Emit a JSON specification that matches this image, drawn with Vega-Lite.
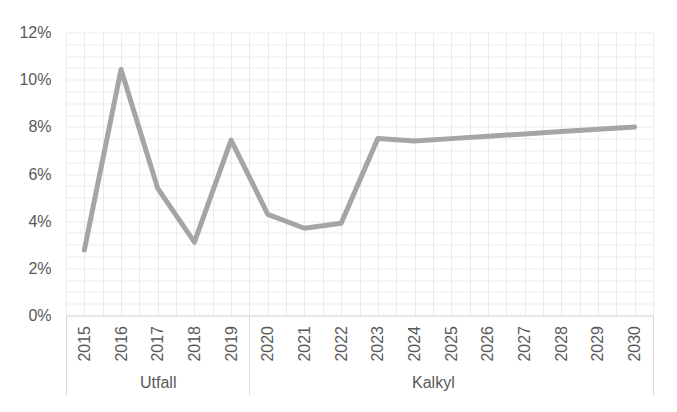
{
  "$schema": "https://vega.github.io/schema/vega-lite/v6.json",
  "autosize": "none",
  "width": 587,
  "height": 283,
  "padding": {"left": 66, "top": 32.5, "right": 24, "bottom": 96},
  "background": "white",
  "config": {
    "view": {"stroke": null},
    "font": "Liberation Sans",
    "axis": {"labelFont": "Liberation Sans", "labelFontSize": 16, "labelColor": "#595959", "titleFont": "Liberation Sans"}
  },
  "data": {"values": [
    {"year": 2015, "value": 0.0278},
    {"year": 2016, "value": 0.1043},
    {"year": 2017, "value": 0.0539},
    {"year": 2018, "value": 0.0311},
    {"year": 2019, "value": 0.0744},
    {"year": 2020, "value": 0.0429},
    {"year": 2021, "value": 0.0370},
    {"year": 2022, "value": 0.0391},
    {"year": 2023, "value": 0.0751},
    {"year": 2024, "value": 0.0740},
    {"year": 2025, "value": 0.0750},
    {"year": 2026, "value": 0.0760},
    {"year": 2027, "value": 0.0770},
    {"year": 2028, "value": 0.0780},
    {"year": 2029, "value": 0.0790},
    {"year": 2030, "value": 0.0799}
  ]},
  "resolve": {"axis": {"x": "independent", "y": "independent"}},
  "layer": [
    {
      "mark": {"type": "line", "color": "#a5a5a5", "strokeWidth": 5, "strokeCap": "round", "strokeJoin": "round", "clip": false},
      "encoding": {
        "x": {
          "field": "year", "type": "quantitative",
          "scale": {"domain": [2014.5, 2030.5], "nice": false, "zero": false},
          "axis": {
            "orient": "bottom",
            "title": null,
            "values": [2014.5, 2015, 2015.5, 2016, 2016.5, 2017, 2017.5, 2018, 2018.5, 2019, 2019.5, 2020, 2020.5, 2021, 2021.5, 2022, 2022.5, 2023, 2023.5, 2024, 2024.5, 2025, 2025.5, 2026, 2026.5, 2027, 2027.5, 2028, 2028.5, 2029, 2029.5, 2030, 2030.5],
            "labelExpr": "datum.value % 1 == 0 ? format(datum.value, 'd') : ''",
            "labelAngle": -90,
            "labelAlign": "right",
            "labelBaseline": "middle",
            "labelPadding": 10,
            "ticks": false,
            "tickSize": 0,
            "grid": true,
            "gridColor": "#ebebeb",
            "gridWidth": 1,
            "domain": true,
            "domainColor": "#d9d9d9",
            "domainWidth": 1,
            "labelOverlap": false,
            "labelFlush": false
          }
        },
        "y": {
          "field": "value", "type": "quantitative",
          "scale": {"domain": [0, 0.12], "nice": false},
          "axis": {
            "orient": "left",
            "title": null,
            "values": [0, 0.005, 0.01, 0.015, 0.02, 0.025, 0.03, 0.035, 0.04, 0.045, 0.05, 0.055, 0.06, 0.065, 0.07, 0.075, 0.08, 0.085, 0.09, 0.095, 0.1, 0.105, 0.11, 0.115, 0.12],
            "labelExpr": "round(datum.value * 1000) % 20 == 0 ? format(datum.value, '.0%') : ''",
            "labelPadding": 15,
            "ticks": false,
            "tickSize": 0,
            "domain": false,
            "grid": true,
            "gridColor": "#ebebeb",
            "gridWidth": 1,
            "labelOverlap": false,
            "labelFlush": false
          }
        }
      }
    },
    {
      "mark": {"type": "line", "opacity": 0},
      "encoding": {
        "x": {
          "field": "year", "type": "quantitative",
          "axis": {
            "orient": "bottom",
            "title": null,
            "values": [2014.5, 2019.5, 2030.5],
            "labels": false,
            "ticks": true,
            "tickSize": 79,
            "tickColor": "#d9d9d9",
            "tickWidth": 1,
            "domain": false,
            "grid": false
          }
        },
        "y": {"field": "value", "type": "quantitative", "axis": null}
      }
    },
    {
      "mark": {"type": "line", "opacity": 0},
      "encoding": {
        "x": {
          "field": "year", "type": "quantitative",
          "axis": {
            "orient": "bottom",
            "title": null,
            "values": [2017, 2024.5],
            "labelExpr": "datum.value == 2017 ? 'Utfall' : 'Kalkyl'",
            "labelPadding": 59,
            "ticks": false,
            "tickSize": 0,
            "domain": false,
            "grid": false,
            "labelOverlap": false,
            "labelFlush": false
          }
        },
        "y": {"field": "value", "type": "quantitative", "axis": null}
      }
    }
  ]
}
